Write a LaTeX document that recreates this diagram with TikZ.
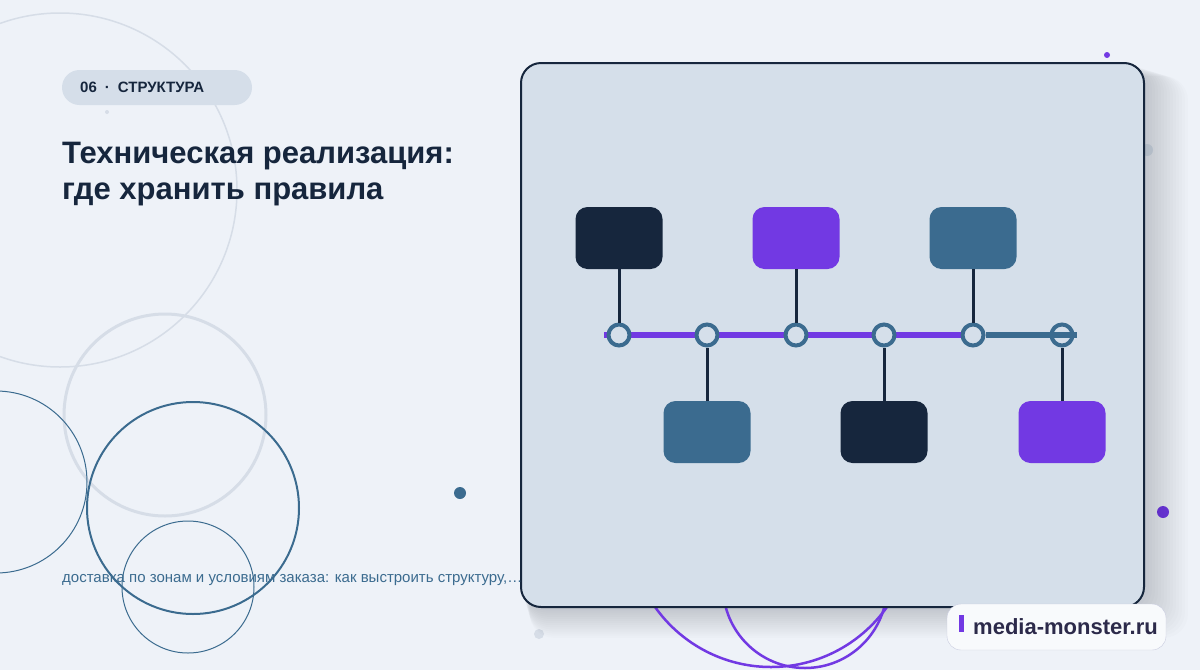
\documentclass[tikz,border=0pt]{standalone}
\usepackage{fontspec}
\setmainfont{Liberation Sans}
\usetikzlibrary{positioning}
\definecolor{bgcol}{HTML}{EEF2F8}
\definecolor{cardcol}{HTML}{D5DFEA}
\definecolor{ink}{HTML}{16263D}
\definecolor{steel}{HTML}{3B6B8F}
\definecolor{violet}{HTML}{7239E3}
\definecolor{pale}{HTML}{D6DDE7}
\definecolor{pillcol}{HTML}{D5DEE9}
\definecolor{badgeink}{HTML}{2C2A4A}
\definecolor{badgeline}{HTML}{C9CCE0}
\tikzset{
  box/.style={rectangle, rounded corners=12pt, minimum width=87pt, minimum height=62pt, inner sep=0pt},
  knot/.style={circle, draw=steel, line width=4pt, fill=cardcol, minimum size=21pt, inner sep=0pt},
  stem/.style={draw=ink, line width=3pt},
  ring/.style={draw=steel},
}
\begin{document}
\begin{tikzpicture}[x=1pt,y=-1pt]
\useasboundingbox (0,0) rectangle (1200,670);
\fill[bgcol] (0,0) rectangle (1200,670);

% decor
\draw[pale,line width=1.5pt] (60,190) circle[radius=177];
\draw[pale,line width=3pt] (165,415) circle[radius=101];
\draw[ring,line width=1pt] (-4,482) circle[radius=91];
\draw[ring,line width=2pt] (193,508) circle[radius=106];
\draw[ring,line width=1pt] (188,587) circle[radius=66];
\fill[steel] (460,493) circle[radius=6];
\fill[pale] (539,634) circle[radius=5];
\fill[pale] (107,112) circle[radius=2];
\fill[violet] (1107,55) circle[radius=3];
\fill[violet] (1163,512) circle[radius=6];
\fill[pale] (1147,150) circle[radius=6];

% card shadow
\foreach \s in {2,5,...,44}
  \fill[black!70!steel,opacity=0.011,rounded corners=24pt] (521+\s*0.2,63+\s*0.3) rectangle (1144+\s,607+\s*0.7);

\draw[violet,line width=2.5pt] (771,525) circle[radius=142];
\draw[violet,line width=2.5pt] (805,586) circle[radius=82];

\draw[ink,fill=cardcol,line width=2pt,rounded corners=20pt] (521,63) rectangle (1144,607);

% timeline
\draw[violet,line width=6pt] (604,335) -- (985,335);
\node[knot] (k1) at (619,335) {};
\node[knot] (k2) at (707,335) {};
\node[knot] (k3) at (796,335) {};
\node[knot] (k4) at (884,335) {};
\node[knot] (k5) at (973,335) {};
\node[knot] (k6) at (1062,335) {};
\draw[steel,line width=6pt] (k5.east) -- (1077,335);

\node[box,fill=ink] (t1) at (619,238) {};
\node[box,fill=violet] (t2) at (796,238) {};
\node[box,fill=steel] (t3) at (973,238) {};
\node[box,fill=steel] (b1) at (707,432) {};
\node[box,fill=ink] (b2) at (884,432) {};
\node[box,fill=violet] (b3) at (1062,432) {};

\draw[stem] (t1) -- (k1);
\draw[stem] (t2) -- (k3);
\draw[stem] (t3) -- (k5);
\draw[stem] (k2) -- (b1);
\draw[stem] (k4) -- (b2);
\draw[stem] (k6) -- (b3);

% texts
\fill[pillcol,rounded corners=17.5pt] (62,70) rectangle (252,105);
\node[anchor=base west,inner sep=0pt,text=ink,font=\fontsize{15}{16}\selectfont\bfseries] (tag) at (80,92) {06\hspace{8pt}·\hspace{8pt}СТРУКТУРА};
\node[anchor=base west,inner sep=0pt,text=ink,font=\fontsize{31}{36}\selectfont\bfseries] (title) at (62,163) {Техническая реализация:};
\node[anchor=base west,inner sep=0pt,text=ink,font=\fontsize{31}{36}\selectfont\bfseries] (title2) at (62,199) {где хранить правила};
\node[anchor=base west,inner sep=0pt,text=steel,font=\fontsize{15}{16}\selectfont] (lead) at (62,582) {доставка по зонам и условиям заказа: как выстроить структуру,…};

% badge
\draw[badgeline,fill=white!60!bgcol,rounded corners=14pt] (947,604) rectangle (1166,650);
\fill[violet] (959,615) rectangle (964,632);
\node[anchor=base west,inner sep=0pt,text=badgeink,font=\fontsize{22}{24}\selectfont\bfseries] (site) at (973,634) {media-monster.ru};
\end{tikzpicture}
\end{document}
